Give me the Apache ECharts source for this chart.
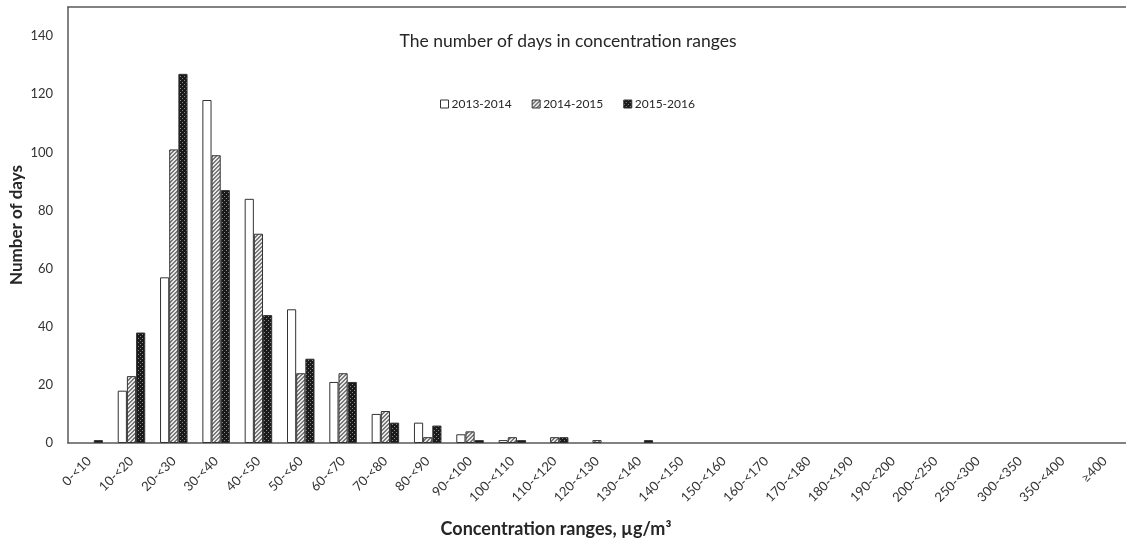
<!DOCTYPE html>
<html>
<head>
<meta charset="utf-8">
<script src="https://cdn.jsdelivr.net/npm/echarts@6/dist/echarts.min.js"></script>
<style>
html,body{margin:0;padding:0;background:#fff;}
#c{width:1126px;height:544px;}
</style>
</head>
<body>
<div id="c"></div>
<script>
const categories = ['0-<10','10-<20','20-<30','30-<40','40-<50','50-<60','60-<70','70-<80','80-<90','90-<100','100-<110','110-<120','120-<130','130-<140','140-<150','150-<160','160-<170','170-<180','180-<190','190-<200','200-<250','250-<300','300-<350','350-<400','≥400'];
const seriesNames = ['2013-2014','2014-2015','2015-2016'];
const v2013 = [0,18,57,118,84,46,21,10,7,3,1,0,0,0,0,0,0,0,0,0,0,0,0,0,0];
const v2014 = [0,23,101,99,72,24,24,11,2,4,2,2,1,0,0,0,0,0,0,0,0,0,0,0,0];
const v2015 = [1,38,127,87,44,29,21,7,6,1,1,2,0,1,0,0,0,0,0,0,0,0,0,0,0];
const yTicks = [0,20,40,60,80,100,120,140];
const titleText = 'The number of days in concentration ranges';
const xName = 'Concentration ranges, µg/m³';
const yName = 'Number of days';

function hatchPattern(){
  const c=document.createElement('canvas'); c.width=4; c.height=4;
  const g=c.getContext('2d');
  g.fillStyle='#e8e8e8'; g.fillRect(0,0,4,4);
  g.fillStyle='#7a7a7a';
  for(let i=0;i<4;i++){ g.fillRect((3-i+4)%4,i,1,1); g.fillRect((4-i+4)%4,i,1,1); }
  return c;
}
function dotPattern(){
  const c=document.createElement('canvas'); c.width=4; c.height=4;
  const g=c.getContext('2d');
  g.fillStyle='#1a1a1a'; g.fillRect(0,0,4,4);
  g.fillStyle='#8a8a8a';
  g.fillRect(0,0,1,1); g.fillRect(2,2,1,1);
  return c;
}
const fills = ['#ffffff', {image: hatchPattern(), repeat:'repeat'}, {image: dotPattern(), repeat:'repeat'}];
const vals = [v2013, v2014, v2015];

const chart = echarts.init(document.getElementById('c'), null, {renderer:'canvas'});
const FONT = 'Lato, "Open Sans", sans-serif';
chart.setOption({
  animation:false,
  backgroundColor:'#ffffff',
  title:{
    text:titleText,
    left:563, top:27, textAlign:'center',
    textStyle:{fontFamily:FONT, fontSize:17.5, fontWeight:'normal', color:'#262626'}
  },
  legend:{
    data:seriesNames, icon:'rect',
    left:435, top:93,
    itemWidth:8, itemHeight:8, itemGap:20,
    textStyle:{fontFamily:FONT, fontSize:12, color:'#262626', padding:[0,0,0,-2]},
    itemStyle:{borderColor:'#333', borderWidth:1}
  },
  graphic:[{
    type:'text',
    style:{text:xName, x:556, y:529, textAlign:'center', textVerticalAlign:'middle',
      font:'bold 18px Lato, "Open Sans", sans-serif', fill:'#262626'}
  }],
  grid:{left:68, right:0, top:7, bottom:101, containLabel:false, outerBoundsMode:'none'},
  xAxis:[{
    type:'category', data:categories,
    axisLine:{lineStyle:{color:'#595959', width:1.5}},
    axisTick:{show:false},
    axisLabel:{rotate:45, interval:0, margin:16, fontFamily:FONT, fontSize:13, color:'#333'}
  },{
    type:'category', data:categories, position:'top',
    axisLine:{show:true, lineStyle:{color:'#595959', width:1.5}},
    axisTick:{show:false}, axisLabel:{show:false}
  }],
  yAxis:{
    type:'value', min:0, max:150, interval:20,
    axisLine:{show:true, lineStyle:{color:'#595959', width:1.5}},
    axisTick:{show:false}, splitLine:{show:false},
    axisLabel:{fontFamily:FONT, fontSize:13, color:'#333', margin:15,
      showMaxLabel:false,
      formatter:function(v){ return yTicks.indexOf(v)>=0 ? String(v) : ''; }},
    name:yName, nameLocation:'middle', nameGap:43, nameMoveOverlap:false,
    nameTextStyle:{fontFamily:FONT, fontSize:17, fontWeight:'bold', color:'#262626'}
  },
  series: seriesNames.map((n,i)=>({
    name:n, type:'bar', data:vals[i].map(v => v === 0 ? null : v),
    barGap:'0%', barCategoryGap:'35%',
    itemStyle:{color:fills[i], borderColor:'#333', borderWidth:1}
  }))
});
</script>
</body>
</html>
